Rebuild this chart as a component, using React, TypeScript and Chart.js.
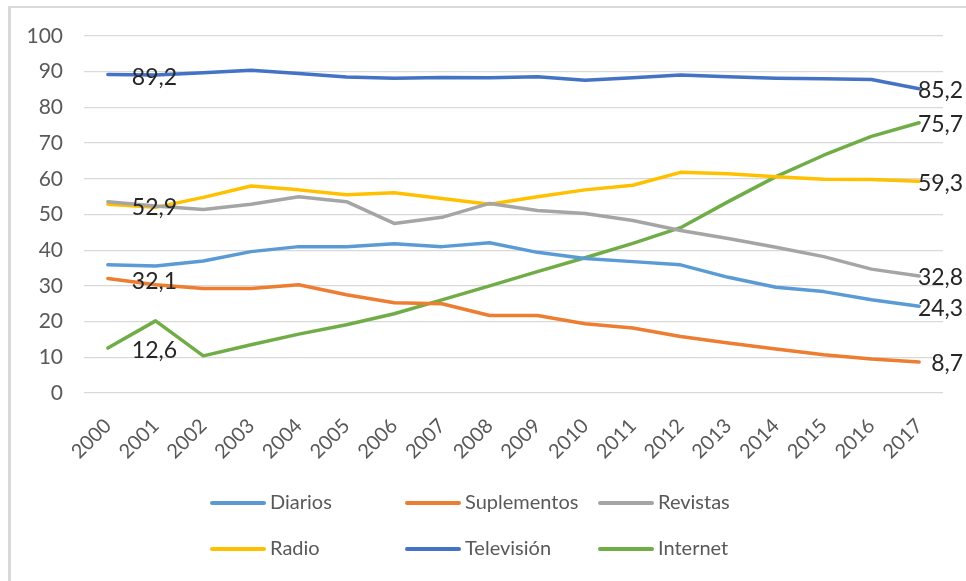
import React, { useEffect, useRef } from "react";
import { Chart, registerables } from "chart.js";

Chart.register(...registerables);

const YEARS = ["2000","2001","2002","2003","2004","2005","2006","2007","2008","2009","2010","2011","2012","2013","2014","2015","2016","2017"];
const SERIES_NAMES = ["Diarios", "Suplementos", "Revistas", "Radio", "Televisión", "Internet"];
const DIARIOS = [35.9, 35.6, 37.0, 39.6, 41.0, 41.0, 41.8, 41.0, 42.1, 39.4, 37.7, 36.8, 35.9, 32.4, 29.6, 28.4, 26.1, 24.3];
const SUPLEMENTOS = [32.1, 30.3, 29.3, 29.3, 30.3, 27.5, 25.3, 25.0, 21.7, 21.7, 19.4, 18.2, 15.8, 14.0, 12.3, 10.7, 9.5, 8.7];
const REVISTAS = [53.6, 52.4, 51.4, 52.9, 55.0, 53.6, 47.5, 49.2, 53.1, 51.1, 50.3, 48.3, 45.5, 43.3, 40.8, 38.2, 34.7, 32.8];
const RADIO = [52.9, 52.0, 54.8, 58.0, 56.9, 55.5, 56.1, 54.5, 52.9, 55.0, 56.9, 58.2, 61.8, 61.4, 60.6, 59.9, 59.8, 59.3];
const TELEVISION = [89.2, 89.1, 89.7, 90.4, 89.5, 88.5, 88.2, 88.4, 88.3, 88.6, 87.6, 88.3, 89.1, 88.6, 88.2, 88.0, 87.8, 85.2];
const INTERNET = [12.6, 20.2, 10.4, 13.5, 16.5, 19.1, 22.2, 26.1, 30.0, 34.0, 37.9, 41.9, 46.3, 53.6, 60.6, 66.6, 71.9, 75.7];
const COLORS = ["#5B9BD5", "#ED7D31", "#A5A5A5", "#FFC000", "#4472C4", "#70AD47"];
// which series show a label on their first point
const SHOW_FIRST_LABEL = [false, true, false, true, true, true];
const Y_TICKS = [0, 10, 20, 30, 40, 50, 60, 70, 80, 90, 100];

const fmt = (v: number) => v.toFixed(1).replace(".", ",");

const valueLabels = {
  id: "valueLabels",
  afterDatasetsDraw(chart: any) {
    const ctx = chart.ctx;
    ctx.save();
    ctx.font = "23px Lato";
    ctx.fillStyle = "#262626";
    ctx.textBaseline = "middle";
    chart.data.datasets.forEach((ds: any, i: number) => {
      const meta = chart.getDatasetMeta(i);
      const pts = meta.data;
      if (SHOW_FIRST_LABEL[i]) {
        const p = pts[0];
        ctx.textAlign = "left";
        ctx.fillText(fmt(ds.data[0]), p.x + 24, p.y + 3);
      }
      const last = pts[pts.length - 1];
      ctx.textAlign = "right";
      ctx.fillText(fmt(ds.data[ds.data.length - 1]), last.x + 44, last.y + 2);
    });
    ctx.restore();
  },
};

const gridLegend = {
  id: "gridLegend",
  afterDraw(chart: any) {
    const ctx = chart.ctx;
    const colX = [210, 405, 598];
    const rowY = [503, 549];
    ctx.save();
    ctx.font = "20px Lato";
    ctx.textBaseline = "middle";
    ctx.textAlign = "left";
    chart.data.datasets.forEach((ds: any, i: number) => {
      const x = colX[i % 3];
      const y = rowY[Math.floor(i / 3)];
      ctx.strokeStyle = ds.borderColor;
      ctx.lineWidth = 4;
      ctx.lineCap = "round";
      ctx.beginPath();
      ctx.moveTo(x + 2, y);
      ctx.lineTo(x + 54, y);
      ctx.stroke();
      ctx.fillStyle = "#595959";
      ctx.fillText(ds.label, x + 60, y);
    });
    ctx.restore();
  },
};

export default function App() {
  const ref = useRef<HTMLCanvasElement | null>(null);
  useEffect(() => {
    if (!ref.current) return;
    const seriesData = [DIARIOS, SUPLEMENTOS, REVISTAS, RADIO, TELEVISION, INTERNET];
    const chart = new Chart(ref.current, {
      type: "line",
      data: {
        labels: YEARS,
        datasets: SERIES_NAMES.map((name, i) => ({
          label: name,
          data: seriesData[i],
          borderColor: COLORS[i],
          backgroundColor: COLORS[i],
          borderWidth: 3.5,
          pointRadius: 0,
          tension: 0,
          borderCapStyle: "round" as const,
          borderJoinStyle: "round" as const,
        })),
      },
      options: {
        animation: false,
        responsive: true,
        maintainAspectRatio: false,
        layout: { padding: { top: 36, right: 23, bottom: 0, left: 0 } },
        plugins: {
          legend: { display: false },
          tooltip: { enabled: false },
        },
        scales: {
          x: {
            offset: true,
            grid: { display: false, drawTicks: false },
            border: { display: false },
            ticks: {
              autoSkip: false,
              maxRotation: 45,
              minRotation: 45,
              padding: 21,
              color: "#595959",
              font: { family: "Lato", size: 20 },
            },
            afterFit: (s: any) => {
              s.height = 188;
            },
          },
          y: {
            min: 0,
            max: 100,
            afterBuildTicks: (s: any) => {
              s.ticks = Y_TICKS.map((v) => ({ value: v }));
            },
            grid: { color: "#D9D9D9", lineWidth: 1.3, drawTicks: false },
            border: { display: false },
            ticks: {
              padding: 21,
              color: "#595959",
              font: { family: "Lato", size: 21 },
            },
            afterFit: (s: any) => {
              s.width = 84;
            },
          },
        },
      },
      plugins: [valueLabels, gridLegend],
    });
    return () => chart.destroy();
  }, []);

  return (
    <>
      <div
        style={{
          position: "fixed",
          left: 8,
          top: 6,
          width: 958,
          height: 575,
          boxSizing: "border-box",
          borderTop: "2px solid #D9D9D9",
          borderLeft: "3px solid #D9D9D9",
        }}
      />
      <div style={{ position: "fixed", left: 0, top: 0, width: 966, height: 581 }}>
        <canvas ref={ref} />
      </div>
    </>
  );
}
